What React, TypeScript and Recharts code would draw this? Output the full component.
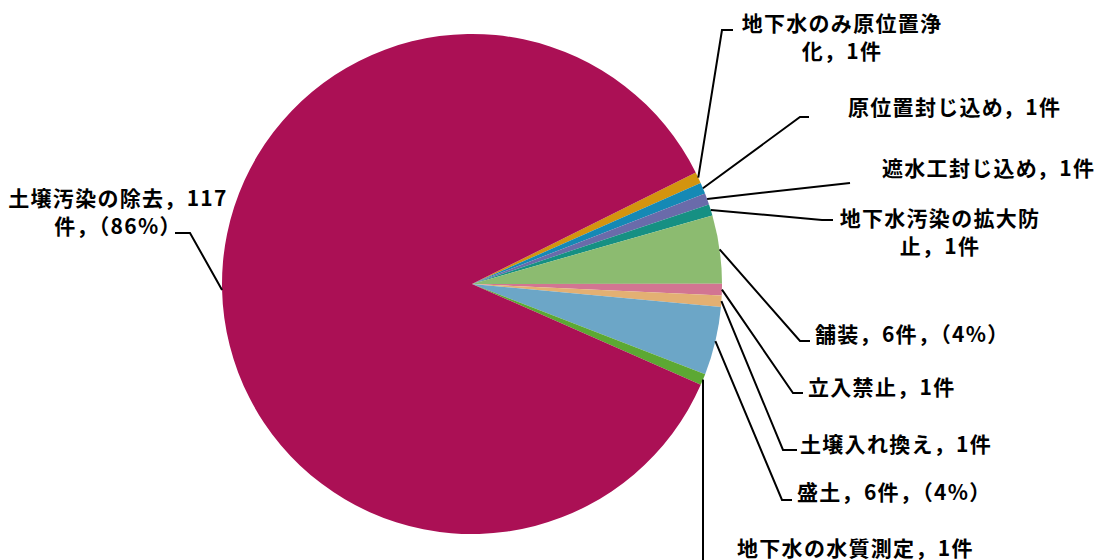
import React from 'react';
import { Cell, Pie, PieChart } from 'recharts';

const categories = [
  '地下水のみ原位置浄化',
  '原位置封じ込め',
  '遮水工封じ込め',
  '地下水汚染の拡大防止',
  '舗装',
  '立入禁止',
  '土壌入れ換え',
  '盛土',
  '地下水の水質測定',
  '土壌汚染の除去',
];
const counts = [1, 1, 1, 1, 6, 1, 1, 6, 1, 117];
const labelLines = [
  ['地下水のみ原位置浄', '化，1件'],
  ['原位置封じ込め，1件'],
  ['遮水工封じ込め，1件'],
  ['地下水汚染の拡大防', '止，1件'],
  ['舗装，6件，（4%）'],
  ['立入禁止，1件'],
  ['土壌入れ換え，1件'],
  ['盛土，6件，（4%）'],
  ['地下水の水質測定，1件'],
  ['土壌汚染の除去，117', '件，（86%）'],
];
const colors = [
  '#D3940F',
  '#1589B5',
  '#6A6BAA',
  '#169083',
  '#8CBB70',
  '#D27592',
  '#E3B073',
  '#6CA6C7',
  '#5CA833',
  '#AB1055',
];

// leader line bends and text boxes, placed by hand like the original
const labelLayout: { pts: [number, number][]; x: number; y: number; anchor: 'start' | 'middle' }[] = [
  { pts: [[722, 30], [733, 30]], x: 842, y: 22, anchor: 'middle' },
  { pts: [[800, 117], [809, 117]], x: 848, y: 106, anchor: 'start' },
  { pts: [[850, 183]], x: 882, y: 167, anchor: 'start' },
  { pts: [[822, 220], [833, 220]], x: 940, y: 217, anchor: 'middle' },
  { pts: [[800, 341], [810, 341]], x: 815, y: 333, anchor: 'start' },
  { pts: [[793, 393], [803, 393]], x: 808, y: 386, anchor: 'start' },
  { pts: [[783, 450], [797, 450]], x: 800, y: 443, anchor: 'start' },
  { pts: [[782, 500], [792, 500]], x: 797, y: 491, anchor: 'start' },
  { pts: [[0, 570]], x: 737, y: 547, anchor: 'start' },
  { pts: [[190, 233], [175, 233]], x: 118, y: 197, anchor: 'middle' },
];

const data = categories.map((name, i) => ({ name, value: counts[i] }));

const RADIAN = Math.PI / 180;

const renderLabel = (props: any) => {
  const { cx, cy, midAngle, outerRadius, index } = props;
  const layout = labelLayout[index];
  const sx = cx + outerRadius * Math.cos(-midAngle * RADIAN);
  const sy = cy + outerRadius * Math.sin(-midAngle * RADIAN);
  // the bottom label hangs straight down from its slice
  const pts = [[sx, sy], ...layout.pts.map(([px, py]) => [index === 8 ? sx : px, py])];
  const lines = labelLines[index];
  return (
    <g key={`lbl-${index}`}>
      <polyline
        points={pts.map(p => p.join(',')).join(' ')}
        fill="none"
        stroke="#000"
        strokeWidth={2}
      />
      <text
        x={layout.x}
        y={layout.y}
        textAnchor={layout.anchor}
        dominantBaseline="central"
        fontFamily="'Noto Sans CJK JP', sans-serif"
        fontWeight="bold"
        fontSize={21}
        letterSpacing={1.3}
        fill="#000"
      >
        {lines.map((line, i) => (
          <tspan key={i} x={layout.x} dy={i === 0 ? 0 : 28}>
            {line}
          </tspan>
        ))}
      </text>
    </g>
  );
};

export default function App() {
  return (
    <div style={{ position: 'absolute', left: 0, top: 0, width: 1109, height: 560, background: '#fff' }}>
      <PieChart width={1109} height={560} margin={{ top: 0, right: 0, bottom: 0, left: 0 }}>
        <Pie
          data={data}
          dataKey="value"
          nameKey="name"
          cx={472}
          cy={284}
          outerRadius={250}
          startAngle={26.5}
          endAngle={26.5 - 360}
          stroke="none"
          label={renderLabel}
          labelLine={false}
          isAnimationActive={false}
        >
          {data.map((entry, i) => (
            <Cell key={entry.name} fill={colors[i]} />
          ))}
        </Pie>
      </PieChart>
    </div>
  );
}
